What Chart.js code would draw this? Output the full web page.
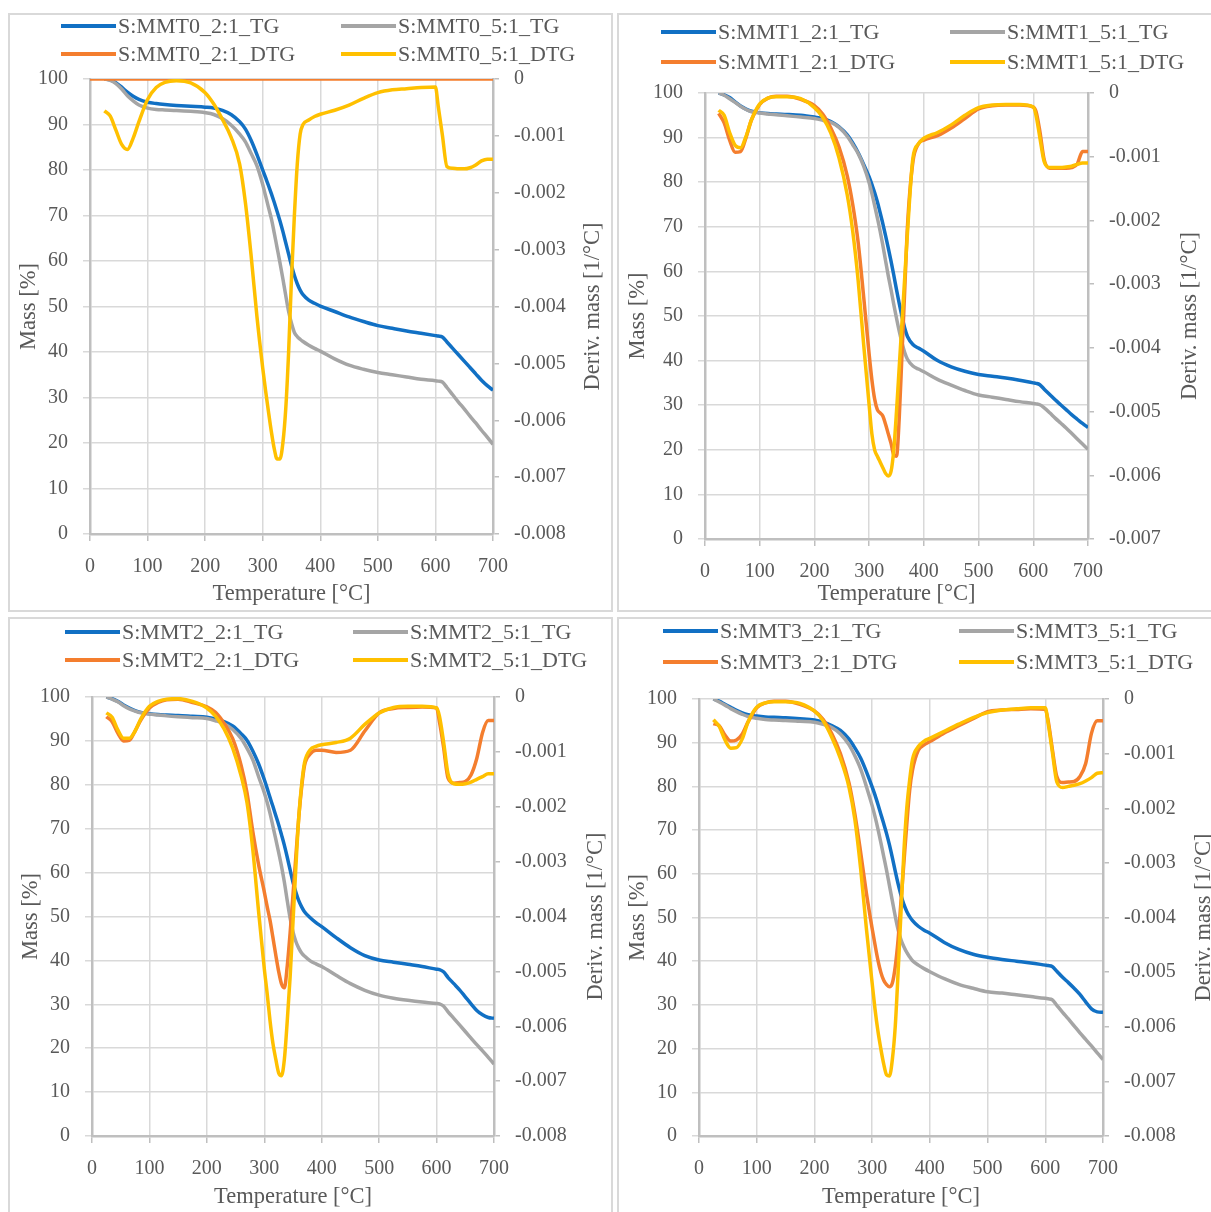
<!DOCTYPE html>
<html>
<head>
<meta charset="utf-8">
<script src="https://cdn.jsdelivr.net/npm/chart.js@4.4.1/dist/chart.umd.min.js"></script>
<style>
  html, body { margin: 0; padding: 0; background: #fff; }
  body { width: 1211px; height: 1212px; position: relative; overflow: hidden;
         font-family: "Liberation Serif", "Times New Roman", serif; color: #595959; }
  .frame { position: absolute; box-sizing: border-box; border: 2px solid #d9d9d9; }
  canvas { position: absolute; }
  .key { position: absolute; height: 4px; width: 55px; }
  .lbl { position: absolute; font-size: 22px; line-height: 24px; white-space: nowrap; }
</style>
</head>
<body>
<script>
// temperature grid shared by every series [°C]
const temperature = [
  0, 25, 35, 45, 55, 65, 75, 85,
  100, 115, 130, 150, 175, 200, 215, 230, 245, 260, 270, 280, 290,
  300, 305, 310, 315, 320, 325, 330, 335, 340, 345, 350, 355, 360, 365, 370,
  380, 390, 400, 425, 450, 475, 500, 525, 550, 575, 600,
  605, 612, 620, 630, 640, 650, 660, 670, 680, 690, 700
];

const samples = ["MMT0", "MMT1", "MMT2", "MMT3"];
const seriesNames = ["2:1_TG", "5:1_TG", "2:1_DTG", "5:1_DTG"];
const massRange = [0, 100];
const tempRange = [0, 700];
const derivMin = [-0.008, -0.007, -0.008, -0.008];

// MMT0
const mmt0Tg21 = [
  null, 100, 99.8, 99.2, 98.2, 97.1, 96.2, 95.5,
  94.9, 94.6, 94.4, 94.2, 94.0, 93.8, 93.6, 93.1, 92.2, 90.6, 89.0, 86.5, 83.4,
  80.0, 78.3, 76.6, 74.8, 72.9, 70.9, 68.8, 66.5, 64.0, 61.5, 59.0, 56.8, 55.0, 53.6, 52.6,
  51.4, 50.7, 50.1, 48.9, 47.7, 46.7, 45.8, 45.2, 44.6, 44.1, 43.6,
  43.5, 43.3, 42.2, 40.8, 39.4, 38.0, 36.6, 35.2, 33.8, 32.6, 31.6
];
const mmt0Tg51 = [
  null, 100, 99.7, 99.0, 97.8, 96.3, 95.2, 94.3,
  93.6, 93.3, 93.2, 93.1, 92.9, 92.6, 92.2, 91.3, 89.9, 87.9, 86.2, 83.6, 80.9,
  76.8, 74.3, 71.8, 69.3, 66.2, 62.9, 59.6, 56.1, 52.4, 48.9, 46.3, 44.3, 43.4, 42.8, 42.3,
  41.5, 40.8, 40.2, 38.5, 37.1, 36.2, 35.5, 35.0, 34.5, 34.0, 33.7,
  33.6, 33.4, 32.2, 30.6, 29.0, 27.5, 25.9, 24.4, 22.8, 21.3, 19.7
];
const mmt0Dtg21 = [
  0, 0, 0, 0, 0, 0, 0, 0,
  0, 0, 0, 0, 0, 0, 0, 0, 0, 0, 0, 0, 0,
  0, 0, 0, 0, 0, 0, 0, 0, 0, 0, 0, 0, 0, 0, 0,
  0, 0, 0, 0, 0, 0, 0, 0, 0, 0, 0,
  0, 0, 0, 0, 0, 0, 0, 0, 0, 0, 0
];
const mmt0Dtg51 = [
  null, -0.00056, -0.00065, -0.00090, -0.00115, -0.00124, -0.00104, -0.00075,
  -0.00036, -0.00015, -0.00006, -0.00003, -0.00007, -0.00024, -0.00044, -0.00071, -0.00102, -0.00150, -0.00218, -0.00312, -0.00418,
  -0.00508, -0.00548, -0.00585, -0.00620, -0.00650, -0.00668, -0.00668, -0.00640, -0.00580, -0.00480, -0.00350, -0.00240, -0.00150, -0.00097, -0.00080,
  -0.00072, -0.00066, -0.00062, -0.00055, -0.00046, -0.00034, -0.00024, -0.00019, -0.00017, -0.00015, -0.00014,
  -0.00049, -0.00098, -0.00154, -0.00157, -0.00158, -0.00158, -0.00156, -0.00151, -0.00144, -0.00141, -0.00141
];

// MMT1
const mmt1Tg21 = [
  null, 100, 99.6, 99.0, 98.0, 97.1, 96.4, 95.9,
  95.6, 95.4, 95.3, 95.2, 95.0, 94.6, 94.3, 93.6, 92.4, 90.6, 88.8, 86.6, 84.0,
  81.2, 79.5, 77.7, 75.6, 73.2, 70.7, 68.0, 65.2, 62.3, 59.2, 55.9, 52.8, 49.9, 47.3, 45.4,
  43.6, 42.8, 42.1, 40.0, 38.6, 37.6, 36.9, 36.5, 36.1, 35.6, 35.0,
  34.9, 34.6, 33.6, 32.4, 31.2, 30.1, 29.0, 27.9, 26.9, 25.9, 25.0
];
const mmt1Tg51 = [
  null, 100, 99.5, 98.7, 97.9, 97.0, 96.3, 95.8,
  95.5, 95.3, 95.1, 94.9, 94.6, 94.3, 93.9, 93.4, 92.3, 90.3, 88.4, 86.4, 83.6,
  79.9, 77.5, 74.8, 72.0, 69.1, 65.9, 62.4, 59.0, 55.9, 52.6, 49.5, 46.6, 44.0, 41.8, 40.3,
  38.8, 38.1, 37.5, 35.8, 34.5, 33.3, 32.3, 31.8, 31.3, 30.8, 30.4,
  30.3, 30.1, 29.4, 28.3, 27.1, 26.0, 24.9, 23.7, 22.5, 21.3, 20.1
];
const mmt1Dtg21 = [
  null, -0.00032, -0.00047, -0.00074, -0.00093, -0.00092, -0.00070, -0.00042,
  -0.00018, -0.00008, -0.00005, -0.00005, -0.00010, -0.00020, -0.00033, -0.00055, -0.00085, -0.00130, -0.00175, -0.00235, -0.00320,
  -0.00410, -0.00450, -0.00480, -0.00497, -0.00502, -0.00507, -0.00520, -0.00535, -0.00550, -0.00568, -0.00570, -0.00510, -0.00410, -0.00310, -0.00210,
  -0.00108, -0.00080, -0.00074, -0.00067, -0.00055, -0.00040, -0.00025, -0.00020, -0.00019, -0.00019, -0.00022,
  -0.00029, -0.00060, -0.00105, -0.00118, -0.00118, -0.00118, -0.00118, -0.00117, -0.00112, -0.00092, -0.00092
];
const mmt1Dtg51 = [
  null, -0.00027, -0.00035, -0.00062, -0.00082, -0.00086, -0.00068, -0.00042,
  -0.00017, -0.00008, -0.00006, -0.00006, -0.00009, -0.00023, -0.00038, -0.00063, -0.00102, -0.00160, -0.00217, -0.00295, -0.00395,
  -0.00490, -0.00535, -0.00560, -0.00570, -0.00579, -0.00588, -0.00597, -0.00601, -0.00594, -0.00560, -0.00500, -0.00430, -0.00360, -0.00290, -0.00220,
  -0.00102, -0.00080, -0.00071, -0.00062, -0.00050, -0.00035, -0.00023, -0.00019, -0.00018, -0.00018, -0.00022,
  -0.00035, -0.00070, -0.00108, -0.00117, -0.00117, -0.00117, -0.00116, -0.00115, -0.00112, -0.00110, -0.00110
];

// MMT2
const mmt2Tg21 = [
  null, 100, 99.6, 99.0, 98.2, 97.5, 96.9, 96.5,
  96.2, 96.0, 95.9, 95.8, 95.6, 95.4, 95.0, 94.4, 93.4, 91.6, 90.1, 87.7, 84.8,
  81.2, 79.2, 77.1, 75.1, 73.0, 70.9, 68.6, 66.2, 63.5, 60.6, 57.8, 55.5, 53.6, 52.2, 51.1,
  49.7, 48.6, 47.7, 45.2, 42.9, 41.1, 40.1, 39.6, 39.1, 38.6, 38.0,
  37.9, 37.4, 36.1, 34.7, 33.3, 31.7, 30.1, 28.6, 27.6, 27.0, 26.8
];
const mmt2Tg51 = [
  null, 100, 99.5, 98.9, 98.0, 97.3, 96.8, 96.4,
  96.1, 95.9, 95.7, 95.5, 95.3, 95.1, 94.6, 93.9, 92.6, 90.5, 88.3, 85.7, 81.9,
  78.2, 76.0, 73.5, 70.6, 67.6, 64.6, 61.4, 57.8, 53.6, 49.6, 46.5, 44.3, 42.8, 41.7, 41.0,
  39.9, 39.2, 38.6, 36.6, 34.7, 33.2, 32.1, 31.4, 30.9, 30.5, 30.2,
  30.1, 29.6, 28.3, 26.8, 25.3, 23.8, 22.3, 20.8, 19.4, 17.9, 16.4
];
const mmt2Dtg21 = [
  null, -0.00036, -0.00045, -0.00066, -0.00080, -0.00079, -0.00062, -0.00042,
  -0.00020, -0.00010, -0.00005, -0.00004, -0.00010, -0.00018, -0.00028, -0.00048, -0.00076, -0.00126, -0.00175, -0.00245, -0.00305,
  -0.00355, -0.00382, -0.00407, -0.00438, -0.00470, -0.00500, -0.00523, -0.00530, -0.00490, -0.00430, -0.00360, -0.00290, -0.00220, -0.00165, -0.00125,
  -0.00104, -0.00097, -0.00097, -0.00101, -0.00097, -0.00062, -0.00029, -0.00021, -0.00019, -0.00018, -0.00020,
  -0.00045, -0.00090, -0.00148, -0.00157, -0.00156, -0.00154, -0.00142, -0.00112, -0.00065, -0.00043, -0.00043
];
const mmt2Dtg51 = [
  null, -0.00029, -0.00037, -0.00060, -0.00075, -0.00075, -0.00062, -0.00040,
  -0.00017, -0.00008, -0.00004, -0.00003, -0.00008, -0.00020, -0.00035, -0.00058, -0.00093, -0.00145, -0.00193, -0.00278, -0.00390,
  -0.00495, -0.00540, -0.00590, -0.00631, -0.00660, -0.00685, -0.00690, -0.00660, -0.00590, -0.00510, -0.00410, -0.00310, -0.00220, -0.00160, -0.00120,
  -0.00096, -0.00090, -0.00087, -0.00083, -0.00075, -0.00050, -0.00029, -0.00019, -0.00017, -0.00017, -0.00020,
  -0.00035, -0.00080, -0.00140, -0.00158, -0.00159, -0.00158, -0.00155, -0.00150, -0.00145, -0.00140, -0.00140
];

// MMT3
const mmt3Tg21 = [
  null, 100, 99.5, 98.8, 98.1, 97.4, 96.8, 96.4,
  96.1, 95.9, 95.8, 95.7, 95.5, 95.2, 94.7, 93.9, 92.8, 90.8, 88.8, 86.5, 83.4,
  79.9, 78.0, 75.9, 73.7, 71.5, 69.2, 66.6, 63.7, 60.6, 57.7, 55.1, 53.0, 51.4, 50.2, 49.3,
  48.0, 47.1, 46.4, 44.3, 42.7, 41.6, 40.9, 40.4, 40.0, 39.6, 39.1,
  39.0, 38.8, 37.7, 36.3, 35.1, 33.8, 32.4, 30.7, 29.1, 28.4, 28.3
];
const mmt3Tg51 = [
  null, 100, 99.3, 98.6, 97.8, 97.1, 96.5, 96.0,
  95.6, 95.3, 95.2, 95.1, 94.9, 94.7, 94.2, 93.5, 92.0, 89.5, 87.0, 84.0, 80.0,
  75.6, 73.1, 70.3, 67.2, 64.0, 60.8, 57.3, 53.8, 50.3, 47.2, 44.9, 43.3, 42.0, 41.0, 40.1,
  39.1, 38.3, 37.6, 36.0, 34.7, 33.8, 33.0, 32.7, 32.3, 31.9, 31.5,
  31.4, 31.2, 29.9, 28.3, 26.8, 25.2, 23.6, 22.1, 20.6, 19.0, 17.5
];
const mmt3Dtg21 = [
  null, -0.00045, -0.00049, -0.00066, -0.00077, -0.00075, -0.00064, -0.00042,
  -0.00016, -0.00007, -0.00004, -0.00004, -0.00010, -0.00022, -0.00037, -0.00063, -0.00100, -0.00154, -0.00210, -0.00280, -0.00355,
  -0.00420, -0.00450, -0.00478, -0.00500, -0.00515, -0.00523, -0.00527, -0.00520, -0.00490, -0.00440, -0.00370, -0.00300, -0.00230, -0.00167, -0.00130,
  -0.00094, -0.00084, -0.00078, -0.00062, -0.00049, -0.00036, -0.00023, -0.00020, -0.00019, -0.00018, -0.00019,
  -0.00040, -0.00090, -0.00142, -0.00153, -0.00152, -0.00151, -0.00142, -0.00118, -0.00063, -0.00040, -0.00040
];
const mmt3Dtg51 = [
  null, -0.00038, -0.00050, -0.00075, -0.00090, -0.00089, -0.00073, -0.00042,
  -0.00015, -0.00007, -0.00005, -0.00005, -0.00008, -0.00022, -0.00040, -0.00070, -0.00109, -0.00162, -0.00220, -0.00310, -0.00420,
  -0.00520, -0.00568, -0.00608, -0.00640, -0.00668, -0.00688, -0.00690, -0.00660, -0.00600, -0.00500, -0.00390, -0.00280, -0.00200, -0.00148, -0.00110,
  -0.00087, -0.00077, -0.00072, -0.00059, -0.00046, -0.00034, -0.00025, -0.00020, -0.00018, -0.00016, -0.00016,
  -0.00045, -0.00095, -0.00152, -0.00162, -0.00160, -0.00158, -0.00155, -0.00150, -0.00144, -0.00136, -0.00135
];

const panelSeries = [
  [mmt0Tg21, mmt0Tg51, mmt0Dtg21, mmt0Dtg51],
  [mmt1Tg21, mmt1Tg51, mmt1Dtg21, mmt1Dtg51],
  [mmt2Tg21, mmt2Tg51, mmt2Dtg21, mmt2Dtg51],
  [mmt3Tg21, mmt3Tg51, mmt3Dtg21, mmt3Dtg51]
];

const colors = ["#1170c4", "#a5a5a5", "#f47e2e", "#ffc000"];
const textColor = "#595959";
const gridColor = "#d9d9d9";
const axisColor = "#bfbfbf";
const fontFamily = "'Liberation Serif', 'Times New Roman', serif";
const titleSize = 22.5;

// frame box, axis band sizes and title offsets of each panel (page pixels)
const panels = [
  { x: 8,   y: 13,  w: 605, h: 599, left: 82, right: 120, top: 66, bottom: 78, padL: 8,  padB: 4, rightX: 585, keyX: [61, 341], keyY: [26, 54] },
  { x: 617, y: 13,  w: 600, h: 599, left: 88, right: 129, top: 80, bottom: 73, padL: 8,  padB: 4, rightX: 573, keyX: [661, 950], keyY: [32, 62] },
  { x: 8,   y: 617, w: 605, h: 600, left: 84, right: 119, top: 80, bottom: 81, padL: 10, padB: 6, rightX: 588, keyX: [65, 353], keyY: [632, 660] },
  { x: 617, y: 617, w: 610, h: 600, left: 82, right: 124, top: 82, bottom: 81, padL: 8,  padB: 6, rightX: 587, keyX: [663, 959], keyY: [631, 662] }
];

Chart.defaults.font.family = fontFamily;
Chart.defaults.font.size = 20;
Chart.defaults.color = textColor;

// right axis title reads bottom-to-top, like the left one
const rightTitle = {
  id: "rightTitle",
  afterDraw(chart, args, opts) {
    const { ctx, chartArea } = chart;
    ctx.save();
    ctx.translate(opts.x, (chartArea.top + chartArea.bottom) / 2);
    ctx.rotate(-Math.PI / 2);
    ctx.font = titleSize + "px " + fontFamily;
    ctx.fillStyle = textColor;
    ctx.textAlign = "center";
    ctx.textBaseline = "middle";
    ctx.fillText(opts.text, 0, 0);
    ctx.restore();
  }
};

function addLegend(p, labels) {
  labels.forEach((label, i) => {
    const kx = p.keyX[i % 2];
    const ky = p.keyY[Math.floor(i / 2)];
    const key = document.createElement("div");
    key.className = "key";
    key.style.left = kx + "px";
    key.style.top = (ky - 2) + "px";
    key.style.background = colors[i];
    document.body.appendChild(key);
    const txt = document.createElement("div");
    txt.className = "lbl";
    txt.style.left = (kx + 57) + "px";
    txt.style.top = (ky - 12) + "px";
    txt.textContent = label;
    document.body.appendChild(txt);
  });
}

panels.forEach((p, k) => {
  const frame = document.createElement("div");
  frame.className = "frame";
  frame.style.left = p.x + "px";
  frame.style.top = p.y + "px";
  frame.style.width = p.w + "px";
  frame.style.height = p.h + "px";
  document.body.appendChild(frame);

  const canvas = document.createElement("canvas");
  canvas.width = p.w;
  canvas.height = p.h;
  canvas.style.left = p.x + "px";
  canvas.style.top = p.y + "px";
  document.body.appendChild(canvas);

  const labels = seriesNames.map(s => "S:" + samples[k] + "_" + s);
  addLegend(p, labels);

  new Chart(canvas, {
    type: "line",
    data: {
      datasets: panelSeries[k].map((vals, i) => ({
        label: labels[i],
        data: temperature.map((t, j) => ({ x: t, y: vals[j] })),
        yAxisID: i < 2 ? "mass" : "deriv",
        borderColor: colors[i],
        backgroundColor: colors[i],
        borderWidth: 3.5,
        pointRadius: 0,
        cubicInterpolationMode: "monotone",
        order: 4 - i
      }))
    },
    options: {
      responsive: false,
      animation: false,
      events: [],
      layout: { padding: { top: p.top, left: 0, right: 0, bottom: 0 } },
      plugins: {
        legend: { display: false },
        tooltip: { enabled: false },
        rightTitle: { x: p.rightX, text: "Deriv. mass [1/°C]" }
      },
      scales: {
        x: {
          type: "linear",
          min: tempRange[0],
          max: tempRange[1],
          ticks: { stepSize: 100, padding: 14 },
          grid: { color: gridColor, lineWidth: 1.5, tickLength: 7, tickColor: axisColor },
          border: { color: axisColor, width: 2.5 },
          title: { display: true, text: "Temperature [°C]", font: { size: titleSize }, padding: { top: 0, bottom: p.padB } },
          afterFit: s => { s.height = p.bottom; }
        },
        mass: {
          position: "left",
          min: massRange[0],
          max: massRange[1],
          ticks: { stepSize: 10, padding: 15 },
          grid: { color: gridColor, lineWidth: 1.5, tickLength: 7 },
          border: { color: axisColor, width: 2.5 },
          title: { display: true, text: "Mass [%]", font: { size: titleSize }, padding: { top: p.padL, bottom: 0 } },
          afterFit: s => { s.width = p.left; }
        },
        deriv: {
          position: "right",
          min: derivMin[k],
          max: 0,
          ticks: {
            stepSize: 0.001,
            padding: 15,
            callback: v => (Math.abs(v) < 1e-9 ? "0" : v.toFixed(3))
          },
          grid: { drawOnChartArea: false, color: axisColor, lineWidth: 1.5, tickLength: 6 },
          border: { color: axisColor, width: 2.5 },
          afterFit: s => { s.width = p.right; }
        }
      }
    },
    plugins: [rightTitle]
  });
});
</script>
</body>
</html>
